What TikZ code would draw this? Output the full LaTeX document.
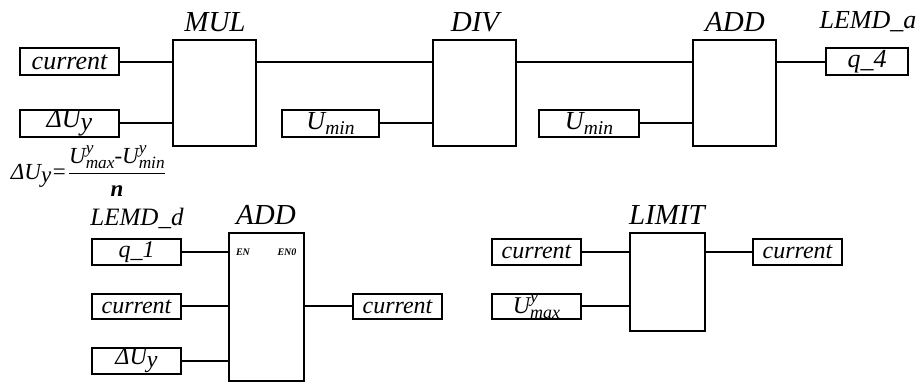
\documentclass[tikz,border=0pt]{standalone}
\usepackage{amsmath}
\usepackage{graphicx}
\usepackage{fontspec}
\setmainfont{Liberation Serif}
\usetikzlibrary{positioning, calc}

\newcommand{\lowidx}[1]{\raisebox{-0.45ex}{\scalebox{0.75}{#1}}}
\newcommand{\supsubidx}[2]{\makebox[0pt][l]{\raisebox{0.95ex}{\scalebox{0.75}{#1}}}\lowidx{#2}}
\newcommand{\dUy}{ΔU\raisebox{-0.25ex}{y}}

\begin{document}
\begin{tikzpicture}[x=0.5pt, y=-0.5pt, line width=1pt,
    every node/.style={font=\itshape},
    varbox/.style={draw, inner sep=0pt, minimum height=13.5pt, font=\itshape\fontsize{13}{15}\selectfont},
    varsm/.style={draw, inner sep=0pt, minimum width=44.5pt, minimum height=12.75pt, font=\itshape\fontsize{12}{14}\selectfont},
    fblock/.style={draw, inner sep=0pt, minimum width=41.5pt, minimum height=53pt},
    fname/.style={font=\itshape\fontsize{14.5}{16}\selectfont}]
  \useasboundingbox (0,0) rectangle (921,383);
  % upper network
  \node[varbox, minimum width=49.5pt] (cur1) at (69.5,62) {current};
  \node[varbox, minimum width=49.5pt] (du1) at (69.5,123.5) {\dUy};
  \node[fblock] (mul) at (214.5,93) {};
  \node[varbox, minimum width=48.5pt] (umin1) at (330.5,123.5) {U\lowidx{min}};
  \node[fblock] (div) at (474.5,93) {};
  \node[varbox, minimum width=50pt] (umin2) at (589,123.5) {U\lowidx{min}};
  \node[fblock] (add1) at (734.5,93) {};
  \node[varbox, minimum width=41pt] (q4) at (867,62) {q\_4};
  \node[fname] at (215,22) {MUL};
  \node[fname] at (475,22) {DIV};
  \node[fname] at (735,22) {ADD};
  \node[fname, font=\itshape\fontsize{13}{15}\selectfont] at (868,22) {LEMD\_a};
  \node[font=\itshape\fontsize{11.5}{13}\selectfont] (dudef) at (89,171) {\dUy=$\dfrac{\text{U\supsubidx{y}{max}-U\supsubidx{y}{min}}}{\text{\bfseries\itshape n}}$};
  \draw (cur1.east) -- (cur1.east -| mul.west);
  \draw (du1.east) -- (du1.east -| mul.west);
  \draw (mul.east |- cur1.east) -- (div.west |- cur1.east);
  \draw (umin1.east) -- (umin1.east -| div.west);
  \draw (div.east |- cur1.east) -- (add1.west |- cur1.east);
  \draw (umin2.east) -- (umin2.east -| add1.west);
  \draw (add1.east |- q4.west) -- (q4.west);
  % lower left: ADD with enable
  \node[varsm] (q1) at (136.5,252) {q\_1};
  \node[varsm] (cur2) at (136.5,306.5) {current};
  \node[varsm] (du2) at (136.5,361) {\dUy};
  \node[fblock, minimum width=37.5pt, minimum height=74pt] (add2) at (266.5,307) {};
  \node[varsm] (cur3) at (397.5,306.5) {current};
  \node[font=\itshape\bfseries\fontsize{5}{6}\selectfont] (en) at (243,252) {EN};
  \node[font=\itshape\bfseries\fontsize{5}{6}\selectfont] (eno) at (287,252) {EN0};
  \node[fname] at (266,215) {ADD};
  \node[fname, font=\itshape\fontsize{12.5}{14}\selectfont] at (137,218) {LEMD\_d};
  \draw (q1.east) -- (q1.east -| add2.west);
  \draw (cur2.east) -- (cur2.east -| add2.west);
  \draw (du2.east) -- (du2.east -| add2.west);
  \draw (add2.east |- cur3.west) -- (cur3.west);
  % lower right: LIMIT
  \node[varsm] (cur4) at (536.5,252) {current};
  \node[varsm] (umax) at (536.5,306.5) {U\supsubidx{y}{max}};
  \node[fblock, minimum width=37.5pt, minimum height=49pt] (lim) at (667.5,282) {};
  \node[varsm] (cur5) at (797.5,252) {current};
  \node[fname] at (667,215) {LIMIT};
  \draw (cur4.east) -- (cur4.east -| lim.west);
  \draw (umax.east) -- (umax.east -| lim.west);
  \draw (lim.east |- cur5.west) -- (cur5.west);
\end{tikzpicture}
\end{document}
